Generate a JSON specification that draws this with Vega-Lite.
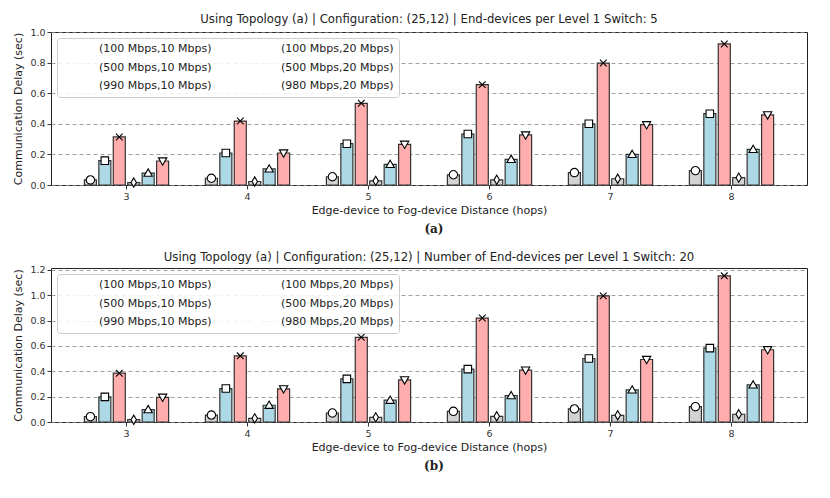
{
  "$schema": "https://vega.github.io/schema/vega-lite/v6.json",
  "padding": {"left": 12, "top": 13, "right": 5, "bottom": 5},
  "spacing": 16,
  "resolve": {"scale": {"shape": "independent", "color": "independent"}, "legend": {"shape": "independent"}},
  "config": {
    "font": "DejaVu Sans",
    "view": {"stroke": "#222", "strokeWidth": 1},
    "title": {"fontSize": 11.7, "fontWeight": "normal", "color": "#222", "offset": 1},
    "axis": {"labelFontSize": 9.5, "labelColor": "#333", "titleFontSize": 11, "titleFontWeight": "normal", "titleColor": "#222", "tickColor": "#333", "domain": false, "tickSize": 4},
    "axisX": {"grid": false, "labelAngle": 0, "titlePadding": 4},
    "axisY": {"grid": true, "gridDash": [4, 3], "gridColor": "#888", "gridWidth": 0.8, "titlePadding": 6},
    "legend": {"orient": "top-left", "columns": 2, "offset": 6, "padding": 5, "symbolOffset": 8, "fillColor": "rgba(255,255,255,0.85)", "strokeColor": "#ccc", "cornerRadius": 3, "labelFontSize": 11, "labelColor": "#222", "symbolSize": 70, "symbolOpacity": 1, "rowPadding": 5, "columnPadding": 32, "labelOffset": 18, "symbolFillColor": "white", "symbolStrokeColor": "black", "symbolStrokeWidth": 1.1}
  },
  "datasets": {
    "a": [
      {"hops": 3, "cfg": "(100 Mbps,10 Mbps)", "delay": 0.033},
      {"hops": 3, "cfg": "(500 Mbps,10 Mbps)", "delay": 0.159},
      {"hops": 3, "cfg": "(990 Mbps,10 Mbps)", "delay": 0.314},
      {"hops": 3, "cfg": "(100 Mbps,20 Mbps)", "delay": 0.016},
      {"hops": 3, "cfg": "(500 Mbps,20 Mbps)", "delay": 0.078},
      {"hops": 3, "cfg": "(980 Mbps,20 Mbps)", "delay": 0.157},
      {"hops": 4, "cfg": "(100 Mbps,10 Mbps)", "delay": 0.044},
      {"hops": 4, "cfg": "(500 Mbps,10 Mbps)", "delay": 0.209},
      {"hops": 4, "cfg": "(990 Mbps,10 Mbps)", "delay": 0.418},
      {"hops": 4, "cfg": "(100 Mbps,20 Mbps)", "delay": 0.023},
      {"hops": 4, "cfg": "(500 Mbps,20 Mbps)", "delay": 0.105},
      {"hops": 4, "cfg": "(980 Mbps,20 Mbps)", "delay": 0.209},
      {"hops": 5, "cfg": "(100 Mbps,10 Mbps)", "delay": 0.054},
      {"hops": 5, "cfg": "(500 Mbps,10 Mbps)", "delay": 0.27},
      {"hops": 5, "cfg": "(990 Mbps,10 Mbps)", "delay": 0.534},
      {"hops": 5, "cfg": "(100 Mbps,20 Mbps)", "delay": 0.027},
      {"hops": 5, "cfg": "(500 Mbps,20 Mbps)", "delay": 0.135},
      {"hops": 5, "cfg": "(980 Mbps,20 Mbps)", "delay": 0.266},
      {"hops": 6, "cfg": "(100 Mbps,10 Mbps)", "delay": 0.067},
      {"hops": 6, "cfg": "(500 Mbps,10 Mbps)", "delay": 0.333},
      {"hops": 6, "cfg": "(990 Mbps,10 Mbps)", "delay": 0.656},
      {"hops": 6, "cfg": "(100 Mbps,20 Mbps)", "delay": 0.034},
      {"hops": 6, "cfg": "(500 Mbps,20 Mbps)", "delay": 0.168},
      {"hops": 6, "cfg": "(980 Mbps,20 Mbps)", "delay": 0.327},
      {"hops": 7, "cfg": "(100 Mbps,10 Mbps)", "delay": 0.081},
      {"hops": 7, "cfg": "(500 Mbps,10 Mbps)", "delay": 0.4},
      {"hops": 7, "cfg": "(990 Mbps,10 Mbps)", "delay": 0.797},
      {"hops": 7, "cfg": "(100 Mbps,20 Mbps)", "delay": 0.041},
      {"hops": 7, "cfg": "(500 Mbps,20 Mbps)", "delay": 0.2},
      {"hops": 7, "cfg": "(980 Mbps,20 Mbps)", "delay": 0.394},
      {"hops": 8, "cfg": "(100 Mbps,10 Mbps)", "delay": 0.094},
      {"hops": 8, "cfg": "(500 Mbps,10 Mbps)", "delay": 0.466},
      {"hops": 8, "cfg": "(990 Mbps,10 Mbps)", "delay": 0.922},
      {"hops": 8, "cfg": "(100 Mbps,20 Mbps)", "delay": 0.048},
      {"hops": 8, "cfg": "(500 Mbps,20 Mbps)", "delay": 0.233},
      {"hops": 8, "cfg": "(980 Mbps,20 Mbps)", "delay": 0.458}
    ],
    "b": [
      {"hops": 3, "cfg": "(100 Mbps,10 Mbps)", "delay": 0.042},
      {"hops": 3, "cfg": "(500 Mbps,10 Mbps)", "delay": 0.198},
      {"hops": 3, "cfg": "(990 Mbps,10 Mbps)", "delay": 0.385},
      {"hops": 3, "cfg": "(100 Mbps,20 Mbps)", "delay": 0.018},
      {"hops": 3, "cfg": "(500 Mbps,20 Mbps)", "delay": 0.098},
      {"hops": 3, "cfg": "(980 Mbps,20 Mbps)", "delay": 0.195},
      {"hops": 4, "cfg": "(100 Mbps,10 Mbps)", "delay": 0.055},
      {"hops": 4, "cfg": "(500 Mbps,10 Mbps)", "delay": 0.264},
      {"hops": 4, "cfg": "(990 Mbps,10 Mbps)", "delay": 0.522},
      {"hops": 4, "cfg": "(100 Mbps,20 Mbps)", "delay": 0.029},
      {"hops": 4, "cfg": "(500 Mbps,20 Mbps)", "delay": 0.132},
      {"hops": 4, "cfg": "(980 Mbps,20 Mbps)", "delay": 0.261},
      {"hops": 5, "cfg": "(100 Mbps,10 Mbps)", "delay": 0.071},
      {"hops": 5, "cfg": "(500 Mbps,10 Mbps)", "delay": 0.34},
      {"hops": 5, "cfg": "(990 Mbps,10 Mbps)", "delay": 0.668},
      {"hops": 5, "cfg": "(100 Mbps,20 Mbps)", "delay": 0.037},
      {"hops": 5, "cfg": "(500 Mbps,20 Mbps)", "delay": 0.172},
      {"hops": 5, "cfg": "(980 Mbps,20 Mbps)", "delay": 0.332},
      {"hops": 6, "cfg": "(100 Mbps,10 Mbps)", "delay": 0.084},
      {"hops": 6, "cfg": "(500 Mbps,10 Mbps)", "delay": 0.417},
      {"hops": 6, "cfg": "(990 Mbps,10 Mbps)", "delay": 0.82},
      {"hops": 6, "cfg": "(100 Mbps,20 Mbps)", "delay": 0.045},
      {"hops": 6, "cfg": "(500 Mbps,20 Mbps)", "delay": 0.208},
      {"hops": 6, "cfg": "(980 Mbps,20 Mbps)", "delay": 0.409},
      {"hops": 7, "cfg": "(100 Mbps,10 Mbps)", "delay": 0.103},
      {"hops": 7, "cfg": "(500 Mbps,10 Mbps)", "delay": 0.501},
      {"hops": 7, "cfg": "(990 Mbps,10 Mbps)", "delay": 0.995},
      {"hops": 7, "cfg": "(100 Mbps,20 Mbps)", "delay": 0.053},
      {"hops": 7, "cfg": "(500 Mbps,20 Mbps)", "delay": 0.253},
      {"hops": 7, "cfg": "(980 Mbps,20 Mbps)", "delay": 0.493},
      {"hops": 8, "cfg": "(100 Mbps,10 Mbps)", "delay": 0.121},
      {"hops": 8, "cfg": "(500 Mbps,10 Mbps)", "delay": 0.583},
      {"hops": 8, "cfg": "(990 Mbps,10 Mbps)", "delay": 1.153},
      {"hops": 8, "cfg": "(100 Mbps,20 Mbps)", "delay": 0.061},
      {"hops": 8, "cfg": "(500 Mbps,20 Mbps)", "delay": 0.293},
      {"hops": 8, "cfg": "(980 Mbps,20 Mbps)", "delay": 0.57}
    ]
  },
  "vconcat": [
    {
      "title": {"text": "(a)", "orient": "bottom", "anchor": "middle", "dx": 24, "font": "DejaVu Serif", "fontWeight": "bold", "fontSize": 12, "offset": 8},
      "vconcat": [
        {
          "title": "Using Topology (a) | Configuration: (25,12) | End-devices per Level 1 Switch: 5",
          "width": 756,
          "height": 153,
          "data": {"name": "a"},
          "encoding": {
            "x": {"field": "hops", "type": "ordinal", "title": "Edge-device to Fog-device Distance (hops)", "scale": {"paddingInner": 0.28, "paddingOuter": 0.264}},
            "xOffset": {"field": "cfg", "type": "nominal", "scale": {"domain": ["(100 Mbps,10 Mbps)", "(500 Mbps,10 Mbps)", "(990 Mbps,10 Mbps)", "(100 Mbps,20 Mbps)", "(500 Mbps,20 Mbps)", "(980 Mbps,20 Mbps)"], "paddingInner": 0.167, "paddingOuter": 0.1}},
            "y": {"field": "delay", "type": "quantitative", "title": "Communication Delay (sec)", "scale": {"domain": [0, 1], "nice": false}, "axis": {"values": [0, 0.2, 0.4, 0.6, 0.8, 1.0], "format": ".1f"}}
          },
          "layer": [
            {
              "mark": {"type": "bar", "stroke": "#333", "strokeWidth": 1.2},
              "encoding": {
                "color": {"field": "cfg", "type": "nominal", "legend": null, "scale": {"domain": ["(100 Mbps,10 Mbps)", "(100 Mbps,20 Mbps)", "(500 Mbps,10 Mbps)", "(500 Mbps,20 Mbps)", "(990 Mbps,10 Mbps)", "(980 Mbps,20 Mbps)"], "range": ["#d3d3d3", "#d3d3d3", "#add8e6", "#add8e6", "#ffadad", "#ffadad"]}}
              }
            },
            {
              "mark": {"type": "point", "filled": true, "fill": "white", "stroke": "black", "strokeWidth": 1.1, "opacity": 1, "size": 70, "invalid": null, "aria": false},
              "encoding": {
                "shape": {
                  "field": "cfg", "type": "nominal",
                  "scale": {
                    "domain": ["(100 Mbps,10 Mbps)", "(500 Mbps,10 Mbps)", "(990 Mbps,10 Mbps)", "(100 Mbps,20 Mbps)", "(500 Mbps,20 Mbps)", "(980 Mbps,20 Mbps)"],
                    "range": ["M-1,0A1,1,0,1,0,1,0A1,1,0,1,0,-1,0Z", "M-0.9,-0.9H0.9V0.9H-0.9Z", "M-0.8,-0.8L0.8,0.8M-0.8,0.8L0.8,-0.8", "M0,-1.1L0.65,0L0,1.1L-0.65,0Z", "M0,-1L1,0.75L-1,0.75Z", "M0,1L1,-0.75L-1,-0.75Z"]
                  },
                  "legend": {
                    "title": null,
                    "encode": {
                      "symbols": {
                        "fill": {"value": "white"},
                        "stroke": {"value": "black"},
                        "strokeWidth": {"value": 1.1},
                        "opacity": {"value": 1},
                        "size": {"value": 70},
                        "shape": {"value": {"expr": "(indexof(datum.value, '100 Mbps,10') >= 0 ? 'M-1,0A1,1,0,1,0,1,0A1,1,0,1,0,-1,0Z' : indexof(datum.value, '100 Mbps,20') >= 0 ? 'M0,-1.1L0.65,0L0,1.1L-0.65,0Z' : indexof(datum.value, '500 Mbps,10') >= 0 ? 'M-0.9,-0.9H0.9V0.9H-0.9Z' : indexof(datum.value, '500 Mbps,20') >= 0 ? 'M0,-1L1,0.75L-1,0.75Z' : indexof(datum.value, '990') >= 0 ? 'M-0.8,-0.8L0.8,0.8M-0.8,0.8L0.8,-0.8' : 'M0,1L1,-0.75L-1,-0.75Z') + 'M0,-1L0,-1.7M-0.8,-1.7L0.8,-1.7M0,1L0,1.7M-0.8,1.7L0.8,1.7'"}}
                      }
                    }
                  }
                }
              }
            }
          ]
        }
      ]
    },
    {
      "title": {"text": "(b)", "orient": "bottom", "anchor": "middle", "dx": 24, "font": "DejaVu Serif", "fontWeight": "bold", "fontSize": 12, "offset": 8},
      "vconcat": [
        {
          "title": "Using Topology (a) | Configuration: (25,12) | Number of End-devices per Level 1 Switch: 20",
          "width": 756,
          "height": 154,
          "data": {"name": "b"},
          "encoding": {
            "x": {"field": "hops", "type": "ordinal", "title": "Edge-device to Fog-device Distance (hops)", "scale": {"paddingInner": 0.28, "paddingOuter": 0.264}},
            "xOffset": {"field": "cfg", "type": "nominal", "scale": {"domain": ["(100 Mbps,10 Mbps)", "(500 Mbps,10 Mbps)", "(990 Mbps,10 Mbps)", "(100 Mbps,20 Mbps)", "(500 Mbps,20 Mbps)", "(980 Mbps,20 Mbps)"], "paddingInner": 0.167, "paddingOuter": 0.1}},
            "y": {"field": "delay", "type": "quantitative", "title": "Communication Delay (sec)", "scale": {"domain": [0, 1.215], "nice": false}, "axis": {"values": [0, 0.2, 0.4, 0.6, 0.8, 1.0, 1.2], "format": ".1f"}}
          },
          "layer": [
            {
              "mark": {"type": "bar", "stroke": "#333", "strokeWidth": 1.2},
              "encoding": {
                "color": {"field": "cfg", "type": "nominal", "legend": null, "scale": {"domain": ["(100 Mbps,10 Mbps)", "(100 Mbps,20 Mbps)", "(500 Mbps,10 Mbps)", "(500 Mbps,20 Mbps)", "(990 Mbps,10 Mbps)", "(980 Mbps,20 Mbps)"], "range": ["#d3d3d3", "#d3d3d3", "#add8e6", "#add8e6", "#ffadad", "#ffadad"]}}
              }
            },
            {
              "mark": {"type": "point", "filled": true, "fill": "white", "stroke": "black", "strokeWidth": 1.1, "opacity": 1, "size": 70, "invalid": null, "aria": false},
              "encoding": {
                "shape": {
                  "field": "cfg", "type": "nominal",
                  "scale": {
                    "domain": ["(100 Mbps,10 Mbps)", "(500 Mbps,10 Mbps)", "(990 Mbps,10 Mbps)", "(100 Mbps,20 Mbps)", "(500 Mbps,20 Mbps)", "(980 Mbps,20 Mbps)"],
                    "range": ["M-1,0A1,1,0,1,0,1,0A1,1,0,1,0,-1,0Z", "M-0.9,-0.9H0.9V0.9H-0.9Z", "M-0.8,-0.8L0.8,0.8M-0.8,0.8L0.8,-0.8", "M0,-1.1L0.65,0L0,1.1L-0.65,0Z", "M0,-1L1,0.75L-1,0.75Z", "M0,1L1,-0.75L-1,-0.75Z"]
                  },
                  "legend": {
                    "title": null,
                    "encode": {
                      "symbols": {
                        "fill": {"value": "white"},
                        "stroke": {"value": "black"},
                        "strokeWidth": {"value": 1.1},
                        "opacity": {"value": 1},
                        "size": {"value": 70},
                        "shape": {"value": {"expr": "(indexof(datum.value, '100 Mbps,10') >= 0 ? 'M-1,0A1,1,0,1,0,1,0A1,1,0,1,0,-1,0Z' : indexof(datum.value, '100 Mbps,20') >= 0 ? 'M0,-1.1L0.65,0L0,1.1L-0.65,0Z' : indexof(datum.value, '500 Mbps,10') >= 0 ? 'M-0.9,-0.9H0.9V0.9H-0.9Z' : indexof(datum.value, '500 Mbps,20') >= 0 ? 'M0,-1L1,0.75L-1,0.75Z' : indexof(datum.value, '990') >= 0 ? 'M-0.8,-0.8L0.8,0.8M-0.8,0.8L0.8,-0.8' : 'M0,1L1,-0.75L-1,-0.75Z') + 'M0,-1L0,-1.7M-0.8,-1.7L0.8,-1.7M0,1L0,1.7M-0.8,1.7L0.8,1.7'"}}
                      }
                    }
                  }
                }
              }
            }
          ]
        }
      ]
    }
  ]
}
